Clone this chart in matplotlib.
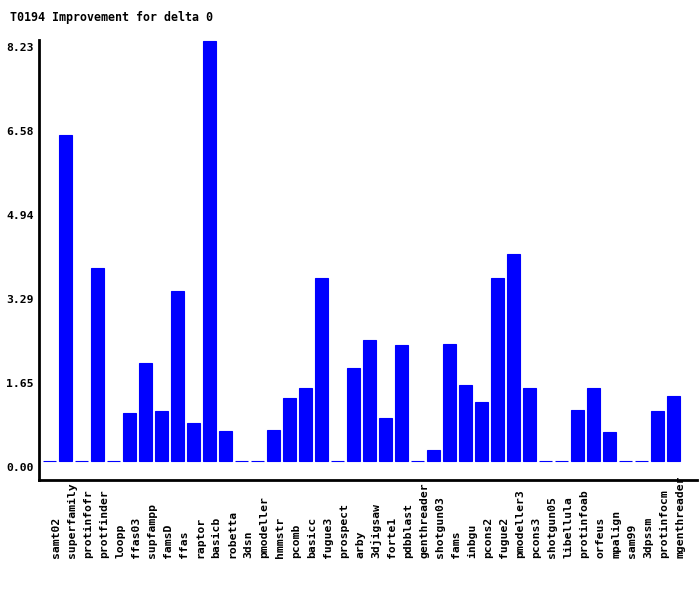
import matplotlib
matplotlib.use('Agg')
import matplotlib.pyplot as plt
from matplotlib.transforms import ScaledTranslation, blended_transform_factory

names = ['samt02', 'superfamily', 'protinfofr', 'protfinder', 'loopp',
         'ffas03', 'supfampp', 'famsD', 'ffas', 'raptor', 'basicb',
         'robetta', '3dsn', 'pmodeller', 'hmmstr', 'pcomb', 'basicc',
         'fugue3', 'prospect', 'arby', '3djigsaw', 'forte1', 'pdbblast',
         'genthreader', 'shotgun03', 'fams', 'inbgu', 'pcons2', 'fugue2',
         'pmodeller3', 'pcons3', 'shotgun05', 'libellula', 'protinfoab',
         'orfeus', 'mpalign', 'sam99', '3dpssm', 'protinfocm',
         'mgenthreader']
values = [0.00, 6.38, 0.00, 3.78, 0.00, 0.93, 1.91, 0.97, 3.33, 0.74,
          8.23, 0.58, 0.00, 0.00, 0.60, 1.23, 1.42, 3.58, 0.00, 1.82,
          2.37, 0.84, 2.27, 0.00, 0.21, 2.29, 1.48, 1.15, 3.58, 4.05,
          1.42, 0.00, 0.00, 0.99, 1.42, 0.56, 0.00, 0.00, 0.97, 1.27]
ytick_labels = ['0.00', '1.65', '3.29', '4.94', '6.58', '8.23']
title = 'T0194 Improvement for delta 0'


def main():
    font = 'DejaVu Sans Mono'
    fig = plt.figure(figsize=(7, 5.9), dpi=100)
    ax = fig.add_axes([39 / 700, 1 - 480 / 590, 658 / 700, 440 / 590])
    x = list(range(len(names)))
    ax.bar(x, values, width=0.8, color='#0000ff', edgecolor='#0000ff',
           linewidth=0.8)
    ax.set_xlim(-0.67, 40.46)
    ax.set_ylim(-0.378, 8.24)
    top = max(values)
    ticks = [top * i / 5 for i in range(6)]
    ax.set_yticks(ticks)
    ax.set_yticklabels(ytick_labels, fontfamily=font, fontweight='bold',
                       fontsize=8.2)
    ax.tick_params(axis='y', length=0, pad=4)
    off = ScaledTranslation(0, -6 / 100, fig.dpi_scale_trans)
    for lab in ax.get_yticklabels():
        lab.set_transform(lab.get_transform() + off)
    ax.set_xticks([])
    # labels start at a common baseline below the axis, reading upwards
    trans = blended_transform_factory(ax.transData, fig.transFigure)
    for xi, name in zip(x, names):
        ax.text(xi + 0.4, 1 - 558 / 590, name, rotation=90, transform=trans,
                fontfamily=font, fontweight='bold', fontsize=8.2,
                ha='center', va='bottom', clip_on=False)
    for s in ['top', 'right']:
        ax.spines[s].set_visible(False)
    for s in ['left', 'bottom']:
        ax.spines[s].set_linewidth(2)
    fig.text(10 / 700, 1 - 17 / 590, title, fontfamily=font,
             fontweight='bold', fontsize=8.4, va='center', ha='left')
    fig.savefig('out.png', dpi=100)


if __name__ == '__main__':
    main()
